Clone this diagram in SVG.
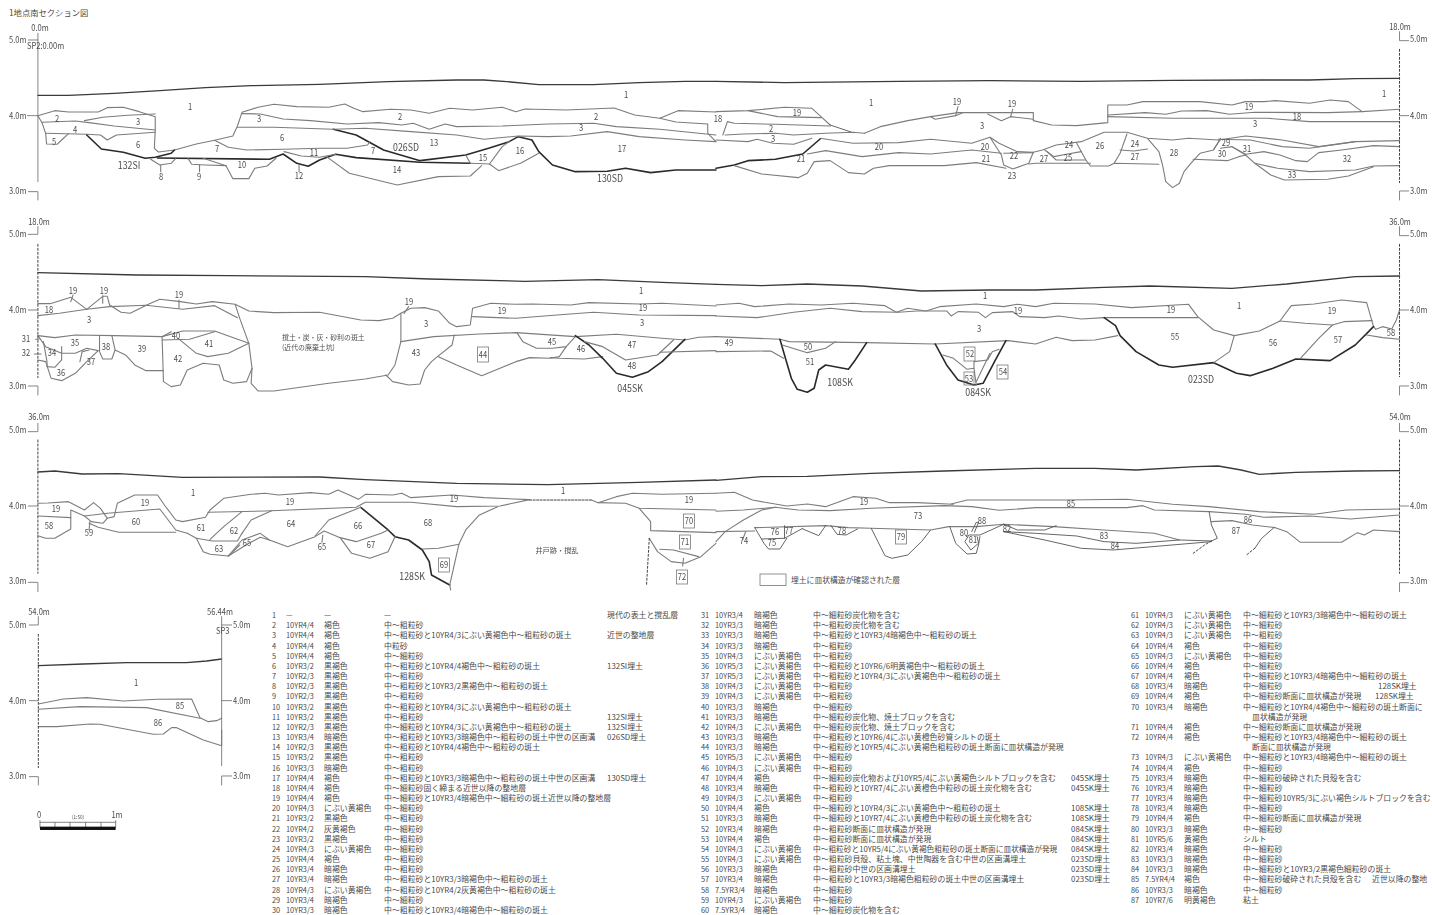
<svg xmlns="http://www.w3.org/2000/svg" width="1432" height="915" viewBox="0 0 1432 915">
<style>
text{font-family:"Noto Sans CJK JP","Noto Sans",sans-serif;fill:#4a4a4a;font-size:9px}
.m{text-anchor:middle}
.b{font-size:10.5px}
.r text{font-size:7.9px}
.r tspan.n{font-size:7.4px}
#layer-labels,#boxed-labels,#axis-labels{opacity:.99}
#layer-labels text:not(.j),#boxed-labels text,#axis-labels text{transform-box:fill-box;transform-origin:center;transform:scaleX(.84)}
#axis-labels text:not(.m){transform-origin:left center}
polyline{fill:none;stroke:#7c7c7c;stroke-width:1.1;stroke-linejoin:round;stroke-linecap:round;vector-effect:non-scaling-stroke}
polyline.h{stroke:#2a2a2a;stroke-width:1.6}
polyline.k{stroke:#3a3a3a;stroke-width:1.3}
polyline.d{stroke:#555;stroke-width:.9}
polyline.a{stroke:#777;stroke-width:.9}
polyline.s{stroke:#444;stroke-width:1;stroke-dasharray:2 2}
polyline.u{stroke:#444;stroke-width:1.2;stroke-dasharray:2 1.5}
rect.x{fill:none;stroke:#777;stroke-width:.8}
</style>
<g id="sheet-title"><text x="9" y="16" font-size="8.3" style="font-size:8.3px">1地点南セクション図</text></g>

<g id="section-a-left" transform="matrix(.4566 0 0 .3333 0 0)">
<polyline class="a" points="83,100 83,545"/><polyline class="a" points="62,120 83,120"/><polyline class="a" points="60,347 83,347"/><polyline class="a" points="62,575 83,575 83,600"/>
<polyline class="k" points="83,286 150,286 250,280 350,272 450,263 550,257 700,253 850,245 1000,240 1060,240 1110,245 1180,254 1300,254 1400,248 1500,244 1568,244"/>
<polyline points="83,347 120,332 150,336 215,336 235,323 270,322 305,335 340,350 340,390 338,445 347,456 382,450 430,432 470,421 510,408 520,378 530,337 565,322 600,313 650,320 720,322 755,312 775,325 795,335 855,328 900,330 940,340 985,325 1035,330 1100,322 1130,335 1150,327 1240,330 1345,324 1390,345 1445,355 1485,332 1568,336"/>
<polyline points="83,347 92,368 100,400 102,432 125,433 135,420 150,401"/>
<polyline points="92,367 165,363 195,368 250,378 340,390"/>
<polyline points="185,362 225,352 280,346 340,342"/>
<polyline points="100,400 190,403 220,405 235,420 255,405 340,397"/>
<polyline class="h" points="190,405 222,447 270,457 318,475 340,472 375,460 382,450"/>
<polyline class="h" points="345,474 590,478 620,462 650,490 675,499 700,480 735,463 780,473 920,487 1030,490"/>
<polyline class="h" points="730,388 780,405 840,450 920,482 1020,465 1070,445 1115,425 1135,410"/>
<polyline class="h" points="1135,410 1165,420 1180,455 1210,495 1260,515 1330,514 1370,505 1425,518 1480,510 1568,510"/>
<polyline points="330,478 350,495 375,490 385,475"/><polyline points="352,495 352,515"/>
<polyline points="412,476 420,493 450,495 495,497"/><polyline points="445,475 495,497"/><polyline points="437,495 437,515"/>
<polyline points="495,497 510,536 545,536 558,505 585,498 605,474"/>
<polyline points="655,495 655,515"/>
<polyline points="622,455 660,468 700,472 735,463"/>
<polyline points="470,421 500,442 540,450 620,448 700,445 760,445 805,435 810,425"/>
<polyline points="715,470 765,520 870,555 960,530 1030,528 1055,497"/>
<polyline points="1020,465 1030,490"/><polyline points="1030,490 1072,492 1100,440 1115,425"/>
<polyline points="1072,492 1092,512 1140,490 1180,460"/>
<polyline points="530,341 570,342 620,357 680,362 760,372 830,368 880,375 905,370 940,388 975,372 1000,380 1100,378 1200,372 1300,370 1350,380 1445,388 1568,405"/>
<polyline points="520,382 600,382 730,388 800,385 900,395 1000,405 1060,418 1135,408 1200,410 1250,408 1330,395 1400,410 1500,420 1568,425"/>
<polyline points="1445,355 1480,366 1550,372 1550,400 1568,425"/>
</g>

<g id="section-a-right" transform="matrix(.4566 0 0 .3333 716 0)">
<polyline class="k" points="0,244 150,248 400,244 600,242 800,244 1000,241 1200,240 1300,240 1400,236 1497,235"/>
<polyline points="0,335 70,332 150,322 210,325 230,350 250,375"/><polyline class="d" points="250,375 300,398"/>
<polyline points="70,332 135,350 230,353"/>
<polyline points="15,405 25,365 40,370 130,373 250,378"/>
<polyline points="20,405 60,402 130,400 170,405 240,400 300,397 325,400"/>
<polyline points="325,400 360,380 420,362 470,350 530,338 695,338 695,362 735,375 790,377 858,368 858,315 900,315 935,305 1060,305 1130,315 1160,305 1200,305 1225,302 1300,310 1345,300 1385,305 1415,335 1497,328"/>
<polyline points="470,350 480,358 525,347 540,338"/><polyline points="525,347 530,320"/>
<polyline points="595,342 625,362 645,350 695,358"/><polyline points="645,350 650,328"/>
<polyline points="858,345 940,338 985,343 1020,333 1075,332 1125,343 1180,337 1340,338 1415,335"/>
<polyline points="858,350 1000,355 1210,355 1300,365 1497,365"/>
<polyline points="0,420 70,425 90,418 125,430 170,433 210,415"/>
<polyline points="228,415 300,430 400,428 470,418 560,430 600,412 620,430 660,455 695,457 715,450 745,435 800,425 850,397 900,397 945,415 1000,420 1035,415 1100,420 1160,408 1240,420 1320,440 1400,425 1497,422"/>
<polyline points="600,412 625,465 630,495 650,507 685,490 695,457"/>
<polyline points="630,460 695,458"/>
<polyline points="200,462 240,452 320,470 400,458 470,462 560,450 625,460"/>
<polyline class="h" points="0,505 40,495 70,482 130,478 190,462 228,417"/>
<polyline points="40,497 100,522 180,533 200,520 215,485 250,482 290,518 325,522 345,505 380,497 500,497 570,488 635,505"/>
<polyline points="685,492 700,490 820,490"/>
<polyline points="720,450 740,470 770,462 800,455"/><polyline points="725,455 745,480 810,480"/>
<polyline points="790,430 810,480 820,498 860,498 872,490 970,493"/>
<polyline points="900,402 885,460 872,490"/><polyline points="885,450 915,453 945,447"/>
<polyline points="945,415 970,455 978,495 985,545 1000,563 1015,550 1025,515 1040,490 1060,460 1090,450 1105,415"/>
<polyline points="1090,447 1105,418"/><polyline points="1105,445 1130,440 1160,465"/>
<polyline points="1045,478 1120,482 1145,470 1160,465"/>
<polyline points="1130,440 1160,463 1200,455 1235,465 1270,482 1295,485 1320,458 1370,450 1440,437 1497,440"/>
<polyline points="1100,418 1170,420 1240,440 1300,445 1400,425"/>
<polyline points="1160,465 1180,490 1230,505 1300,515 1400,510 1440,498 1497,497"/>
<polyline points="1180,490 1215,525 1245,540 1340,538 1385,528 1440,500"/>
<polyline class="s" points="1497,148 1497,548"/>
<polyline class="a" points="1497,95 1497,122 1517,122"/><polyline class="a" points="1497,347 1517,347"/><polyline class="a" points="1497,600 1497,573 1517,573"/>
</g>

<g id="section-b-left" transform="matrix(.4566 0 0 .3333 0 205)">
<polyline class="k" points="83,203 300,210 500,212 800,215 940,222 1150,229 1310,224 1450,232 1568,238"/>
<polyline points="83,296 110,296 155,277 190,313 225,274 235,274 240,300 265,322 285,325 325,298 350,283 395,290 430,297 465,290 515,298 545,318 600,323 700,322 790,345 830,347 860,340 878,325 900,310 930,308 960,318 985,355 1000,365 1030,360 1035,310 1075,295 1130,298 1165,297 1250,300 1290,293 1400,297 1450,295 1568,303"/>
<polyline points="83,332 130,325 190,313 240,305 320,301 400,313 470,302 520,338"/>
<polyline points="515,298 525,340 545,415 552,490 550,535 565,558 600,558 720,535 800,522 850,510 865,480 878,410 878,325"/>
<polyline points="845,510 860,530 895,540 920,537 930,495 945,470 958,455 990,420 995,390"/>
<polyline points="83,392 120,398 165,390 250,392 355,395 400,378 470,378 545,415"/>
<polyline points="83,392 100,425 135,445 165,445 190,430 215,437"/>
<polyline points="95,410 103,470 103,485 120,487 135,465 135,425"/>
<polyline points="83,465 100,470 112,520 135,527 165,505 190,470 215,437"/>
<polyline points="175,470 180,440 195,435"/>
<polyline points="218,392 218,440 225,462 245,462 252,435 245,392"/>
<polyline points="252,435 275,450 295,480 320,497 358,497"/>
<polyline points="355,395 358,530 375,545 395,540 410,495 445,475 480,480 490,525 510,535 540,530 552,490"/>
<polyline points="355,405 415,403 470,380"/><polyline points="390,400 430,445 455,455 500,445 545,415"/><polyline points="355,395 375,380"/>
<polyline points="878,410 950,395 1050,387 1130,383 1260,395 1350,388 1450,400 1500,405 1530,397 1568,395"/>
<polyline points="1132,383 1145,410 1175,430 1210,430 1240,425 1260,395"/>
<polyline points="1240,425 1225,455 1205,460 1160,458 1130,470 1095,490 1055,512 1000,480 960,455"/>
<polyline points="1205,458 1225,460 1280,462 1320,455"/>
<polyline class="h" points="1260,392 1290,420 1320,460 1350,505 1385,517 1420,500 1450,470 1500,403"/>
<polyline points="1280,410 1320,425 1370,465 1440,450 1475,405"/>
<polyline points="1445,442 1568,437"/>
<polyline points="1035,335 1130,340 1220,330 1300,322 1400,330 1568,332"/>
<polyline points="160,270 155,290"/><polyline points="225,272 225,295"/><polyline points="392,285 392,310"/><polyline points="895,305 885,325"/>
<polyline points="78,403 85,403"/><polyline points="75,447 90,447"/>
<polyline class="a" points="83,65 83,88 62,88"/><polyline class="s" points="83,118 83,518"/><polyline class="a" points="62,315 83,315"/><polyline class="a" points="62,543 83,543 83,570"/>
</g>

<g id="section-b-right" transform="matrix(.4566 0 0 .3333 716 205)">
<polyline class="k" points="0,238 100,242 200,237 320,243 450,258 600,255 700,255 850,247 950,243 1130,250 1250,237 1400,215 1497,213"/>
<polyline points="0,300 50,295 85,305 160,297 230,300 300,295 370,302 395,322 420,310 460,318 490,305 570,297 630,305 660,298 700,305 740,295 830,297 910,308 1035,298 1055,335 1090,375 1135,392 1190,378 1235,348 1260,302 1310,297 1370,285 1425,293 1440,365 1445,373 1460,365 1480,372 1490,345 1497,315"/>
<polyline points="0,333 90,338 170,322 250,310 320,320 400,322 440,318 505,318 515,333 530,320 575,322 590,338 605,323 650,320 665,335 720,338 750,333 800,342 850,338 1055,338"/>
<polyline points="0,395 140,403 160,410 330,413 480,417 640,407 700,417 745,397 780,407 830,405 880,392"/>
<polyline class="h" points="140,403 150,450 165,520 178,553 200,562 215,550 225,495 240,480 290,493 305,465 330,413"/>
<polyline points="145,420 200,443 240,430 262,410"/><polyline points="0,440 120,438 148,460"/>
<polyline class="h" points="480,417 505,480 530,525 565,540 585,535 610,470 635,407"/>
<polyline points="497,450 520,460 550,493 565,490 565,470 595,465 605,440 620,433"/>
<polyline points="570,530 600,445"/><polyline points="565,490 570,540"/>
<polyline class="h" points="850,338 875,362 885,392 920,440 970,480 1000,487 1090,473 1140,505 1170,512 1220,490 1270,462 1345,467 1400,420 1440,365"/>
<polyline points="1135,392 1125,440 1090,473"/>
<polyline points="1235,348 1290,355 1350,360 1375,350 1437,347"/>
<polyline points="1350,360 1320,400 1280,460"/>
<polyline points="1425,390 1460,398 1497,403"/>
<polyline class="s" points="1497,118 1497,515"/>
<polyline class="a" points="1497,65 1497,92 1517,92"/><polyline class="a" points="1497,315 1517,315"/><polyline class="a" points="1497,570 1497,543 1517,543"/>
</g>

<g id="section-c-left" transform="matrix(.4566 0 0 .3333 0 405)">
<polyline class="k" points="83,201 120,198 180,207 260,206 400,217 700,216 800,224 1000,235 1200,239 1400,232 1568,225"/>
<polyline points="83,295 105,294 150,290 185,315 205,293 220,310 235,340 250,335 257,295 295,270 345,270 360,300 385,345 400,350 450,337 460,315 490,280 550,268 580,265 610,270 680,263 720,268 740,255 765,270 785,283 800,268 860,270 880,265 900,278 990,270 1060,278 1160,284"/>
<polyline class="u" points="1160,285 1295,285"/>
<polyline points="1295,285 1310,293 1350,275 1385,265 1450,268 1568,265"/>
<polyline points="83,333 155,338 155,315 185,333 235,325 350,312 385,375 410,385"/>
<polyline points="155,338 155,372 120,400 100,400 83,392"/>
<polyline points="195,355 215,367 260,382 385,382"/>
<polyline points="185,333 200,350 225,355 235,340"/><polyline points="197,350 195,375"/>
<polyline points="455,322 580,318 780,307 800,292 900,292 1000,305 1095,303 1160,284"/>
<polyline class="h" points="790,307 850,375 865,395 895,405 925,435 940,470 945,510 985,540"/>
<polyline points="410,385 430,400 445,440 460,448 500,453 525,420"/>
<polyline points="430,400 465,408 520,408 530,385"/>
<polyline points="460,403 490,365 530,320"/><polyline points="530,385 550,345 595,317"/>
<polyline points="500,453 530,405 570,385 590,405 630,425 690,395 710,378 745,398 780,410 835,385 850,375"/>
<polyline points="500,453 545,415 570,397 590,405"/>
<polyline points="690,393 720,345 790,307"/>
<polyline points="745,398 770,445 810,460 850,440 865,395"/>
<polyline points="707,390 705,412"/>
<polyline points="925,432 960,430 1005,418 1020,375 1050,330 1090,305"/>
<polyline points="1005,418 985,540 987,555"/>
<polyline points="1400,310 1425,350 1425,377 1568,383"/><polyline points="1310,293 1370,295 1400,310 1568,315"/>
<polyline points="1422,400 1440,440 1470,470 1500,475 1535,455 1568,415"/><polyline points="1445,433 1475,435 1530,455"/>
<polyline class="s" points="1422,400 1416,540"/><polyline points="1497,460 1495,483"/>
<polyline class="a" points="83,55 83,80 62,80"/><polyline class="s" points="83,105 83,505"/><polyline class="a" points="62,303 83,303"/><polyline class="a" points="62,532 83,532 83,560"/>
</g>

<g id="section-c-right" transform="matrix(.4566 0 0 .3333 716 405)">
<polyline class="k" points="0,226 100,215 200,214 340,205 500,198 700,190 830,190 920,195 1050,185 1100,183 1150,195 1190,208 1270,202 1400,198 1497,197"/>
<polyline points="0,265 40,262 80,285 120,295 155,303 200,297 240,305 300,275 350,280 380,293 440,293 520,298"/>
<polyline points="0,319 60,315 130,307 180,315 250,317 340,310 500,302 560,305 620,316 700,308 900,308 935,302 960,315 1080,320"/>
<polyline points="515,297 550,285 770,285 900,283 1000,298 1080,305 1190,320 1310,328 1380,315 1497,312"/>
<polyline points="1080,320 1160,328 1200,337 1300,333 1390,342 1497,330"/>
<polyline class="d" points="1080,320 1085,360 1098,400 1085,408"/>
<polyline points="1085,350 1130,347 1175,360 1225,368 1250,380 1280,412 1370,412 1405,383 1420,390 1440,375 1497,380"/>
<polyline class="d" points="1222,368 1195,400 1180,430"/><polyline class="s" points="1180,430 1160,452"/>
<polyline class="s" points="1085,408 1070,420 1045,445"/>
<polyline points="0,380 85,378"/><polyline points="0,410 20,380 60,345 100,315 130,307"/>
<polyline points="85,368 240,362 290,368 340,370 470,375 510,365 570,365 630,358 740,365 850,375 960,385 1015,405"/>
<polyline class="d" points="85,368 105,415 115,432 140,432 155,400"/>
<polyline class="d" points="100,402 150,400 190,370"/><polyline class="d" points="150,362 150,400"/><polyline points="65,380 58,405"/>
<polyline class="d" points="190,372 225,392 240,362"/><polyline class="d" points="252,362 265,388 285,390 310,372"/>
<polyline class="d" points="340,370 370,452 385,460 420,450 450,410 470,375"/>
<polyline class="d" points="512,365 525,415 550,447 570,445 575,420 578,395"/>
<polyline class="d" points="548,395 555,390 578,390 630,358"/>
<polyline class="d" points="630,358 660,375 720,375 745,362"/>
<polyline class="d" points="630,380 700,385 790,393 850,410 920,415 1015,405 1085,408"/>
<polyline class="d" points="630,380 720,405 800,430 870,435 1085,410"/>
<polyline class="d" points="560,380 570,352 575,352 566,382"/>
<polyline class="d" points="552,395 545,410 558,435 575,415 572,395"/>
<polyline class="s" points="1497,105 1497,505"/>
<polyline class="a" points="1497,55 1497,80 1517,80"/><polyline class="a" points="1497,303 1517,303"/><polyline class="a" points="1497,560 1497,533 1517,533"/>
</g>

<g id="section-d" transform="matrix(.3333 0 0 .3333 0 600)">
<polyline class="k" points="115,197 250,192 380,188 560,188 620,183 665,177"/>
<polyline points="115,312 190,297 260,293 370,303 470,298 575,297 600,353 625,365 650,362 665,355"/>
<polyline points="115,328 240,320 440,323 600,355"/>
<polyline points="115,380 170,380 270,372 300,373 460,403 490,402 515,383 530,383 610,420 665,437 665,390"/>
<polyline class="s" points="115,103 115,503"/><polyline class="a" points="88,75 115,75 115,50"/><polyline class="a" points="88,302 115,302"/><polyline class="a" points="88,530 115,530 115,555"/>
<polyline class="a" points="665,50 665,497"/><polyline class="a" points="665,75 695,75"/><polyline class="a" points="665,302 695,302"/><polyline class="a" points="665,555 665,528 695,528"/>
<polyline class="a" points="120,667 347,667"/><polyline class="a" points="120,662 120,682"/><polyline class="a" points="165,667 165,682"/><polyline class="a" points="210,667 210,682"/><polyline class="a" points="257,667 257,682"/><polyline class="a" points="303,667 303,682"/><polyline class="a" points="347,662 347,682"/>
<rect x="120" y="680" width="227" height="10" fill="#111"/>
</g>

<g id="layer-labels">
<text class="m" x="190" y="110">1</text><text class="m" x="57" y="122">2</text><text class="m" x="138" y="125">3</text><text class="m" x="75" y="133">4</text><text class="m" x="54" y="145">5</text><text class="m" x="138" y="148">6</text><text class="m" x="626" y="98">1</text><text class="m" x="400" y="120">2</text><text class="m" x="596" y="120">2</text><text class="m" x="259" y="122">3</text><text class="m" x="581" y="131">3</text><text class="m" x="282" y="141">6</text><text class="m" x="434" y="146">13</text><text class="m" x="217" y="152">7</text><text class="m" x="373" y="154">7</text><text class="m" x="314" y="156">11</text><text class="m" x="520" y="154">16</text><text class="m" x="622" y="152">17</text><text class="m" x="483" y="161">15</text><text class="m" x="242" y="168">10</text><text class="m" x="397" y="173">14</text><text class="m" x="161" y="180">8</text><text class="m" x="199" y="180">9</text><text class="m" x="299" y="179">12</text>
<text class="m b" x="406" y="151">026SD</text><text class="m b" x="129" y="169">132SI</text><text class="m b" x="610" y="182">130SD</text>
<text class="m" x="718" y="122">18</text><text class="m" x="797" y="116">19</text><text class="m" x="871" y="106">1</text><text class="m" x="957" y="105">19</text><text class="m" x="1012" y="107">19</text><text class="m" x="1249" y="110">19</text><text class="m" x="1384" y="97">1</text><text class="m" x="1297" y="120">18</text><text class="m" x="982" y="129">3</text><text class="m" x="1255" y="127">3</text><text class="m" x="771" y="132">2</text><text class="m" x="773" y="142">3</text><text class="m" x="879" y="150">20</text><text class="m" x="985" y="150">20</text><text class="m" x="1069" y="148.5">24</text><text class="m" x="1100" y="149">26</text><text class="m" x="1135" y="147">24</text><text class="m" x="1226" y="146">29</text><text class="m" x="1247" y="152">31</text><text class="m" x="1174" y="156">28</text><text class="m" x="1222" y="157">30</text><text class="m" x="1347" y="162">32</text><text class="m" x="1014" y="159">22</text><text class="m" x="1068" y="161">25</text><text class="m" x="801" y="162">21</text><text class="m" x="986" y="162">21</text><text class="m" x="1044" y="162">27</text><text class="m" x="1135" y="160">27</text><text class="m" x="1292" y="178">33</text><text class="m" x="1012" y="179">23</text>
<text class="m" x="73" y="294">19</text><text class="m" x="104" y="294">19</text><text class="m" x="179" y="298">19</text><text class="m" x="409" y="305">19</text><text class="m" x="49" y="313">18</text><text class="m" x="89" y="323">3</text><text class="m" x="641" y="294">1</text><text class="m" x="502" y="314">19</text><text class="m" x="643" y="311">19</text><text class="m" x="426" y="327">3</text><text class="m" x="642" y="326">3</text><text class="m" x="26" y="342">31</text><text class="m" x="26" y="356">32</text><text class="m" x="75" y="346">35</text><text class="m" x="176" y="339">40</text><text class="m" x="209" y="347">41</text><text class="m" x="106" y="350">38</text><text class="m" x="142" y="352">39</text><text class="m" x="52" y="356">34</text><text class="m" x="178" y="362">42</text><text class="m" x="91" y="365">37</text><text class="m" x="61" y="376">36</text><text class="m" x="416" y="356">43</text><text class="m" x="552" y="345">45</text><text class="m" x="581" y="352">46</text><text class="m" x="632" y="348">47</text><text class="m" x="632" y="369">48</text>
<text class="m b" x="630" y="392">045SK</text>
<text class="j" x="282" y="340" style="font-size:6.9px">撹土・炭・灰・砂利の斑土</text><text class="j" x="282" y="350" style="font-size:6.9px">(近代の廃棄土坑)</text>
<text class="m" x="985" y="299">1</text><text class="m" x="1239" y="309">1</text><text class="m" x="1171" y="313">19</text><text class="m" x="1332" y="314">19</text><text class="m" x="1018" y="314">19</text><text class="m" x="979" y="332">3</text><text class="m" x="729" y="346">49</text><text class="m" x="1175" y="340">55</text><text class="m" x="808" y="350">50</text><text class="m" x="1273" y="346">56</text><text class="m" x="1338" y="343">57</text><text class="m" x="1391" y="336">58</text><text class="m" x="810" y="365">51</text>
<text class="m b" x="840" y="386">108SK</text><text class="m b" x="1201" y="383">023SD</text><text class="m b" x="978" y="396">084SK</text>
<text class="m" x="193" y="496">1</text><text class="m" x="56" y="512">19</text><text class="m" x="145" y="506">19</text><text class="m" x="290" y="505">19</text><text class="m" x="454" y="502">19</text><text class="m" x="563" y="494">1</text><text class="m" x="689" y="503">19</text><text class="m" x="49" y="529">58</text><text class="m" x="136" y="525">60</text><text class="m" x="89" y="536">59</text><text class="m" x="201" y="531">61</text><text class="m" x="234" y="534">62</text><text class="m" x="291" y="527">64</text><text class="m" x="358" y="529">66</text><text class="m" x="428" y="526">68</text><text class="m" x="247" y="546">65</text><text class="m" x="322" y="550">65</text><text class="m" x="371" y="548">67</text><text class="m" x="219" y="552">63</text>
<text class="m j" x="557" y="553" style="font-size:7.2px">井戸跡・撹乱</text>
<text class="m b" x="412" y="580">128SK</text>
<text class="m" x="864" y="505">19</text><text class="m" x="1071" y="507">85</text><text class="m" x="918" y="519">73</text><text class="m" x="982" y="524">88</text><text class="m" x="775" y="535">76</text><text class="m" x="789" y="534">77</text><text class="m" x="842" y="534">78</text><text class="m" x="964" y="536">80</text><text class="m" x="973" y="543">81</text><text class="m" x="1007" y="532">82</text><text class="m" x="1104" y="539">83</text><text class="m" x="1115" y="549">84</text><text class="m" x="744" y="544">74</text><text class="m" x="772" y="546">75</text><text class="m" x="1248" y="523">86</text><text class="m" x="1236" y="534">87</text>
<text class="m" x="136" y="686">1</text><text class="m" x="180" y="709">85</text><text class="m" x="158" y="726">86</text>
</g>

<g id="boxed-labels">
<rect class="x" x="477.5" y="347" width="11" height="15"/><text class="m" x="483" y="358">44</text>
<rect class="x" x="964" y="347" width="11" height="14"/><text class="m" x="970" y="357">52</text>
<rect class="x" x="997" y="365" width="11" height="14"/><text class="m" x="1003" y="375">54</text>
<rect class="x" x="964" y="372" width="10" height="13"/><text class="m" x="969" y="382">53</text>
<rect class="x" x="438.5" y="558" width="11" height="14"/><text class="m" x="444" y="568">69</text>
<rect class="x" x="683.5" y="514" width="11" height="14"/><text class="m" x="689" y="524">70</text>
<rect class="x" x="679.5" y="535" width="11" height="14"/><text class="m" x="685" y="545">71</text>
<rect class="x" x="676.5" y="570" width="11" height="14"/><text class="m" x="682" y="580">72</text>
<rect class="x" x="895.5" y="530" width="11" height="14"/><text class="m" x="901" y="540">79</text>
</g>

<g id="legend"><rect class="x" x="760" y="574" width="26" height="11.5"/><text x="791" y="583" style="font-size:7.8px">埋土に皿状構造が確認された層</text></g>

<g id="axis-labels">
<text class="m" x="40" y="31">0.0m</text><text x="9" y="43">5.0m</text><text x="27" y="49">SP2:0.00m</text><text x="9" y="119">4.0m</text><text x="9" y="194">3.0m</text>
<text class="m" x="1400" y="30">18.0m</text><text x="1410" y="42">5.0m</text><text x="1410" y="119">4.0m</text><text x="1410" y="194">3.0m</text>
<text class="m" x="39" y="225">18.0m</text><text x="9" y="237">5.0m</text><text x="9" y="313">4.0m</text><text x="9" y="389">3.0m</text>
<text class="m" x="1400" y="225">36.0m</text><text x="1410" y="237">5.0m</text><text x="1410" y="313">4.0m</text><text x="1410" y="389">3.0m</text>
<text class="m" x="39" y="420">36.0m</text><text x="9" y="433">5.0m</text><text x="9" y="509">4.0m</text><text x="9" y="584">3.0m</text>
<text class="m" x="1400" y="420">54.0m</text><text x="1410" y="433">5.0m</text><text x="1410" y="509">4.0m</text><text x="1410" y="584">3.0m</text>
<text class="m" x="39" y="615">54.0m</text><text x="9" y="628">5.0m</text><text x="9" y="704">4.0m</text><text x="9" y="779">3.0m</text>
<text class="m" x="220" y="615">56.44m</text><text x="233" y="628">5.0m</text><text x="216" y="634">SP3</text><text x="233" y="704">4.0m</text><text x="233" y="779">3.0m</text>
<text class="m" x="39" y="818">0</text><text class="m" x="78" y="819" style="font-size:5.5px">(1:50)</text><text class="m" x="117" y="818">1m</text>
</g>

<g id="table-1" class="r">
<text y="618"><tspan class="n" x="272">1</tspan><tspan class="n" x="286">—</tspan><tspan x="324">—</tspan><tspan x="384">—</tspan><tspan x="607">現代の表土と撹乱層</tspan></text>
<text y="628.2"><tspan class="n" x="272">2</tspan><tspan class="n" x="286">10YR4/4</tspan><tspan x="324">褐色</tspan><tspan x="384">中～粗粒砂</tspan></text>
<text y="638.3"><tspan class="n" x="272">3</tspan><tspan class="n" x="286">10YR4/4</tspan><tspan x="324">褐色</tspan><tspan x="384">中～粗粒砂と10YR4/3にぶい黄褐色中～粗粒砂の斑土</tspan><tspan x="607">近世の整地層</tspan></text>
<text y="648.5"><tspan class="n" x="272">4</tspan><tspan class="n" x="286">10YR4/4</tspan><tspan x="324">褐色</tspan><tspan x="384">中粒砂</tspan></text>
<text y="658.7"><tspan class="n" x="272">5</tspan><tspan class="n" x="286">10YR4/4</tspan><tspan x="324">褐色</tspan><tspan x="384">中～細粒砂</tspan></text>
<text y="668.9"><tspan class="n" x="272">6</tspan><tspan class="n" x="286">10YR3/2</tspan><tspan x="324">黒褐色</tspan><tspan x="384">中～粗粒砂と10YR4/4褐色中～粗粒砂の斑土</tspan><tspan x="607">132SI埋土</tspan></text>
<text y="679"><tspan class="n" x="272">7</tspan><tspan class="n" x="286">10YR2/3</tspan><tspan x="324">黒褐色</tspan><tspan x="384">中～粗粒砂</tspan></text>
<text y="689.2"><tspan class="n" x="272">8</tspan><tspan class="n" x="286">10YR2/3</tspan><tspan x="324">黒褐色</tspan><tspan x="384">中～粗粒砂と10YR3/2黒褐色中～粗粒砂の斑土</tspan></text>
<text y="699.4"><tspan class="n" x="272">9</tspan><tspan class="n" x="286">10YR2/3</tspan><tspan x="324">黒褐色</tspan><tspan x="384">中～粗粒砂</tspan></text>
<text y="709.5"><tspan class="n" x="272">10</tspan><tspan class="n" x="286">10YR3/2</tspan><tspan x="324">黒褐色</tspan><tspan x="384">中～粗粒砂と10YR4/3にぶい黄褐色中～粗粒砂の斑土</tspan></text>
<text y="719.7"><tspan class="n" x="272">11</tspan><tspan class="n" x="286">10YR3/2</tspan><tspan x="324">黒褐色</tspan><tspan x="384">中～粗粒砂</tspan><tspan x="607">132SI埋土</tspan></text>
<text y="729.9"><tspan class="n" x="272">12</tspan><tspan class="n" x="286">10YR2/3</tspan><tspan x="324">黒褐色</tspan><tspan x="384">中～細粒砂と10YR4/3にぶい黄褐色中～粗粒砂の斑土</tspan><tspan x="607">132SI埋土</tspan></text>
<text y="740"><tspan class="n" x="272">13</tspan><tspan class="n" x="286">10YR3/4</tspan><tspan x="324">暗褐色</tspan><tspan x="384">中～粗粒砂と10YR3/3暗褐色中～粗粒砂の斑土中世の区画溝</tspan><tspan x="607">026SD埋土</tspan></text>
<text y="750.2"><tspan class="n" x="272">14</tspan><tspan class="n" x="286">10YR2/3</tspan><tspan x="324">黒褐色</tspan><tspan x="384">中～粗粒砂と10YR4/4褐色中～粗粒砂の斑土</tspan></text>
<text y="760.4"><tspan class="n" x="272">15</tspan><tspan class="n" x="286">10YR3/2</tspan><tspan x="324">黒褐色</tspan><tspan x="384">中～粗粒砂</tspan></text>
<text y="770.6"><tspan class="n" x="272">16</tspan><tspan class="n" x="286">10YR3/3</tspan><tspan x="324">暗褐色</tspan><tspan x="384">中～粗粒砂</tspan></text>
<text y="780.7"><tspan class="n" x="272">17</tspan><tspan class="n" x="286">10YR4/4</tspan><tspan x="324">褐色</tspan><tspan x="384">中～粗粒砂と10YR3/3暗褐色中～粗粒砂の斑土中世の区画溝</tspan><tspan x="607">130SD埋土</tspan></text>
<text y="790.9"><tspan class="n" x="272">18</tspan><tspan class="n" x="286">10YR4/4</tspan><tspan x="324">褐色</tspan><tspan x="384">中～細粒砂固く締まる近世以降の整地層</tspan></text>
<text y="801.1"><tspan class="n" x="272">19</tspan><tspan class="n" x="286">10YR4/4</tspan><tspan x="324">褐色</tspan><tspan x="384">中～細粒砂と10YR3/4暗褐色中～細粒砂の斑土近世以降の整地層</tspan></text>
<text y="811.2"><tspan class="n" x="272">20</tspan><tspan class="n" x="286">10YR4/3</tspan><tspan x="324">にぶい黄褐色</tspan><tspan x="384">中～細粒砂</tspan></text>
<text y="821.4"><tspan class="n" x="272">21</tspan><tspan class="n" x="286">10YR3/2</tspan><tspan x="324">黒褐色</tspan><tspan x="384">中～粗粒砂</tspan></text>
<text y="831.6"><tspan class="n" x="272">22</tspan><tspan class="n" x="286">10YR4/2</tspan><tspan x="324">灰黄褐色</tspan><tspan x="384">中～細粒砂</tspan></text>
<text y="841.7"><tspan class="n" x="272">23</tspan><tspan class="n" x="286">10YR3/2</tspan><tspan x="324">黒褐色</tspan><tspan x="384">中～粗粒砂</tspan></text>
<text y="851.9"><tspan class="n" x="272">24</tspan><tspan class="n" x="286">10YR4/3</tspan><tspan x="324">にぶい黄褐色</tspan><tspan x="384">中～細粒砂</tspan></text>
<text y="862.1"><tspan class="n" x="272">25</tspan><tspan class="n" x="286">10YR4/4</tspan><tspan x="324">褐色</tspan><tspan x="384">中～粗粒砂</tspan></text>
<text y="872.3"><tspan class="n" x="272">26</tspan><tspan class="n" x="286">10YR3/4</tspan><tspan x="324">暗褐色</tspan><tspan x="384">中～粗粒砂</tspan></text>
<text y="882.4"><tspan class="n" x="272">27</tspan><tspan class="n" x="286">10YR3/4</tspan><tspan x="324">暗褐色</tspan><tspan x="384">中～粗粒砂と10YR3/3暗褐色中～粗粒砂の斑土</tspan></text>
<text y="892.6"><tspan class="n" x="272">28</tspan><tspan class="n" x="286">10YR4/3</tspan><tspan x="324">にぶい黄褐色</tspan><tspan x="384">中～粗粒砂と10YR4/2灰黄褐色中～粗粒砂の斑土</tspan></text>
<text y="902.8"><tspan class="n" x="272">29</tspan><tspan class="n" x="286">10YR3/4</tspan><tspan x="324">暗褐色</tspan><tspan x="384">中～細粒砂</tspan></text>
<text y="912.9"><tspan class="n" x="272">30</tspan><tspan class="n" x="286">10YR3/3</tspan><tspan x="324">暗褐色</tspan><tspan x="384">中～粗粒砂と10YR3/4暗褐色中～細粒砂の斑土</tspan></text>
</g>

<g id="table-2" class="r">
<text y="618"><tspan class="n" x="701">31</tspan><tspan class="n" x="715">10YR3/4</tspan><tspan x="754">暗褐色</tspan><tspan x="813">中～細粒砂炭化物を含む</tspan></text>
<text y="628.2"><tspan class="n" x="701">32</tspan><tspan class="n" x="715">10YR3/3</tspan><tspan x="754">暗褐色</tspan><tspan x="813">中～粗粒砂炭化物を含む</tspan></text>
<text y="638.3"><tspan class="n" x="701">33</tspan><tspan class="n" x="715">10YR3/3</tspan><tspan x="754">暗褐色</tspan><tspan x="813">中～粗粒砂と10YR3/4暗褐色中～粗粒砂の斑土</tspan></text>
<text y="648.5"><tspan class="n" x="701">34</tspan><tspan class="n" x="715">10YR3/3</tspan><tspan x="754">暗褐色</tspan><tspan x="813">中～粗粒砂</tspan></text>
<text y="658.7"><tspan class="n" x="701">35</tspan><tspan class="n" x="715">10YR4/3</tspan><tspan x="754">にぶい黄褐色</tspan><tspan x="813">中～粗粒砂</tspan></text>
<text y="668.9"><tspan class="n" x="701">36</tspan><tspan class="n" x="715">10YR5/3</tspan><tspan x="754">にぶい黄褐色</tspan><tspan x="813">中～粗粒砂と10YR6/6明黄褐色中～粗粒砂の斑土</tspan></text>
<text y="679"><tspan class="n" x="701">37</tspan><tspan class="n" x="715">10YR5/3</tspan><tspan x="754">にぶい黄褐色</tspan><tspan x="813">中～粗粒砂と10YR4/3にぶい黄褐色中～粗粒砂の斑土</tspan></text>
<text y="689.2"><tspan class="n" x="701">38</tspan><tspan class="n" x="715">10YR4/3</tspan><tspan x="754">にぶい黄褐色</tspan><tspan x="813">中～粗粒砂</tspan></text>
<text y="699.4"><tspan class="n" x="701">39</tspan><tspan class="n" x="715">10YR4/3</tspan><tspan x="754">にぶい黄褐色</tspan><tspan x="813">中～粗粒砂</tspan></text>
<text y="709.5"><tspan class="n" x="701">40</tspan><tspan class="n" x="715">10YR3/3</tspan><tspan x="754">暗褐色</tspan><tspan x="813">中～細粒砂</tspan></text>
<text y="719.7"><tspan class="n" x="701">41</tspan><tspan class="n" x="715">10YR3/3</tspan><tspan x="754">暗褐色</tspan><tspan x="813">中～細粒砂炭化物、焼土ブロックを含む</tspan></text>
<text y="729.9"><tspan class="n" x="701">42</tspan><tspan class="n" x="715">10YR4/3</tspan><tspan x="754">にぶい黄褐色</tspan><tspan x="813">中～細粒砂炭化物、焼土ブロックを含む</tspan></text>
<text y="740"><tspan class="n" x="701">43</tspan><tspan class="n" x="715">10YR3/3</tspan><tspan x="754">暗褐色</tspan><tspan x="813">中～粗粒砂と10YR6/4にぶい黄橙色砂質シルトの斑土</tspan></text>
<text y="750.2"><tspan class="n" x="701">44</tspan><tspan class="n" x="715">10YR3/3</tspan><tspan x="754">暗褐色</tspan><tspan x="813">中～粗粒砂と10YR5/4にぶい黄褐色粗粒砂の斑土断面に皿状構造が発現</tspan></text>
<text y="760.4"><tspan class="n" x="701">45</tspan><tspan class="n" x="715">10YR5/3</tspan><tspan x="754">にぶい黄褐色</tspan><tspan x="813">中～細粒砂</tspan></text>
<text y="770.6"><tspan class="n" x="701">46</tspan><tspan class="n" x="715">10YR4/3</tspan><tspan x="754">にぶい黄褐色</tspan><tspan x="813">中～粗粒砂</tspan></text>
<text y="780.7"><tspan class="n" x="701">47</tspan><tspan class="n" x="715">10YR4/4</tspan><tspan x="754">褐色</tspan><tspan x="813">中～細粒砂炭化物および10YR5/4にぶい黄褐色シルトブロックを含む</tspan><tspan x="1071">045SK埋土</tspan></text>
<text y="790.9"><tspan class="n" x="701">48</tspan><tspan class="n" x="715">10YR3/4</tspan><tspan x="754">暗褐色</tspan><tspan x="813">中～粗粒砂と10YR7/4にぶい黄橙色中粒砂の斑土炭化物を含む</tspan><tspan x="1071">045SK埋土</tspan></text>
<text y="801.1"><tspan class="n" x="701">49</tspan><tspan class="n" x="715">10YR4/3</tspan><tspan x="754">にぶい黄褐色</tspan><tspan x="813">中～粗粒砂</tspan></text>
<text y="811.2"><tspan class="n" x="701">50</tspan><tspan class="n" x="715">10YR4/4</tspan><tspan x="754">褐色</tspan><tspan x="813">中～細粒砂と10YR4/3にぶい黄褐色中～粗粒砂の斑土</tspan><tspan x="1071">108SK埋土</tspan></text>
<text y="821.4"><tspan class="n" x="701">51</tspan><tspan class="n" x="715">10YR3/3</tspan><tspan x="754">暗褐色</tspan><tspan x="813">中～細粒砂と10YR7/4にぶい黄橙色中粒砂の斑土炭化物を含む</tspan><tspan x="1071">108SK埋土</tspan></text>
<text y="831.6"><tspan class="n" x="701">52</tspan><tspan class="n" x="715">10YR3/4</tspan><tspan x="754">暗褐色</tspan><tspan x="813">中～粗粒砂断面に皿状構造が発現</tspan><tspan x="1071">084SK埋土</tspan></text>
<text y="841.7"><tspan class="n" x="701">53</tspan><tspan class="n" x="715">10YR4/4</tspan><tspan x="754">褐色</tspan><tspan x="813">中～粗粒砂断面に皿状構造が発現</tspan><tspan x="1071">084SK埋土</tspan></text>
<text y="851.9"><tspan class="n" x="701">54</tspan><tspan class="n" x="715">10YR4/3</tspan><tspan x="754">にぶい黄褐色</tspan><tspan x="813" style="font-size:7.7px">中～粗粒砂と10YR5/4にぶい黄褐色粗粒砂の斑土断面に皿状構造が発現</tspan><tspan x="1071">084SK埋土</tspan></text>
<text y="862.1"><tspan class="n" x="701">55</tspan><tspan class="n" x="715">10YR4/3</tspan><tspan x="754">にぶい黄褐色</tspan><tspan x="813">中～粗粒砂貝殻、粘土塊、中世陶器を含む中世の区画溝埋土</tspan><tspan x="1071">023SD埋土</tspan></text>
<text y="872.3"><tspan class="n" x="701">56</tspan><tspan class="n" x="715">10YR3/3</tspan><tspan x="754">暗褐色</tspan><tspan x="813">中～粗粒砂中世の区画溝埋土</tspan><tspan x="1071">023SD埋土</tspan></text>
<text y="882.4"><tspan class="n" x="701">57</tspan><tspan class="n" x="715">10YR3/4</tspan><tspan x="754">暗褐色</tspan><tspan x="813">中～粗粒砂と10YR3/3暗褐色粗粒砂の斑土中世の区画溝埋土</tspan><tspan x="1071">023SD埋土</tspan></text>
<text y="892.6"><tspan class="n" x="701">58</tspan><tspan class="n" x="715">7.5YR3/4</tspan><tspan x="754">暗褐色</tspan><tspan x="813">中～細粒砂</tspan></text>
<text y="902.8"><tspan class="n" x="701">59</tspan><tspan class="n" x="715">10YR4/3</tspan><tspan x="754">にぶい黄褐色</tspan><tspan x="813">中～細粒砂</tspan></text>
<text y="912.9"><tspan class="n" x="701">60</tspan><tspan class="n" x="715">7.5YR3/4</tspan><tspan x="754">暗褐色</tspan><tspan x="813">中～細粒砂炭化物を含む</tspan></text>
</g>

<g id="table-3" class="r">
<text y="618"><tspan class="n" x="1131">61</tspan><tspan class="n" x="1145">10YR4/3</tspan><tspan x="1184">にぶい黄褐色</tspan><tspan x="1243">中～細粒砂と10YR3/3暗褐色中～細粒砂の斑土</tspan></text>
<text y="628.2"><tspan class="n" x="1131">62</tspan><tspan class="n" x="1145">10YR4/3</tspan><tspan x="1184">にぶい黄褐色</tspan><tspan x="1243">中～細粒砂</tspan></text>
<text y="638.3"><tspan class="n" x="1131">63</tspan><tspan class="n" x="1145">10YR4/3</tspan><tspan x="1184">にぶい黄褐色</tspan><tspan x="1243">中～粗粒砂</tspan></text>
<text y="648.5"><tspan class="n" x="1131">64</tspan><tspan class="n" x="1145">10YR4/4</tspan><tspan x="1184">褐色</tspan><tspan x="1243">中～細粒砂</tspan></text>
<text y="658.7"><tspan class="n" x="1131">65</tspan><tspan class="n" x="1145">10YR4/3</tspan><tspan x="1184">にぶい黄褐色</tspan><tspan x="1243">中～細粒砂</tspan></text>
<text y="668.9"><tspan class="n" x="1131">66</tspan><tspan class="n" x="1145">10YR4/4</tspan><tspan x="1184">褐色</tspan><tspan x="1243">中～細粒砂</tspan></text>
<text y="679"><tspan class="n" x="1131">67</tspan><tspan class="n" x="1145">10YR4/4</tspan><tspan x="1184">褐色</tspan><tspan x="1243">中～細粒砂と10YR3/4暗褐色中～細粒砂の斑土</tspan></text>
<text y="689.2"><tspan class="n" x="1131">68</tspan><tspan class="n" x="1145">10YR3/4</tspan><tspan x="1184">暗褐色</tspan><tspan x="1243">中～細粒砂</tspan><tspan x="1378">128SK埋土</tspan></text>
<text y="699.4"><tspan class="n" x="1131">69</tspan><tspan class="n" x="1145">10YR4/4</tspan><tspan x="1184">褐色</tspan><tspan x="1243">中～細粒砂断面に皿状構造が発現</tspan><tspan x="1375">128SK埋土</tspan></text>
<text y="709.5"><tspan class="n" x="1131">70</tspan><tspan class="n" x="1145">10YR3/4</tspan><tspan x="1184">暗褐色</tspan><tspan x="1243">中～細粒砂と10YR4/4褐色中～細粒砂の斑土断面に</tspan></text>
<text y="719.7"><tspan x="1252">皿状構造が発現</tspan></text>
<text y="729.9"><tspan class="n" x="1131">71</tspan><tspan class="n" x="1145">10YR4/4</tspan><tspan x="1184">褐色</tspan><tspan x="1243">中～細粒砂断面に皿状構造が発現</tspan></text>
<text y="740"><tspan class="n" x="1131">72</tspan><tspan class="n" x="1145">10YR4/4</tspan><tspan x="1184">褐色</tspan><tspan x="1243">中～細粒砂と10YR3/4暗褐色中～細粒砂の斑土</tspan></text>
<text y="750.2"><tspan x="1252">断面に皿状構造が発現</tspan></text>
<text y="760.4"><tspan class="n" x="1131">73</tspan><tspan class="n" x="1145">10YR4/3</tspan><tspan x="1184">にぶい黄褐色</tspan><tspan x="1243">中～細粒砂と10YR3/4暗褐色中～細粒砂の斑土</tspan></text>
<text y="770.6"><tspan class="n" x="1131">74</tspan><tspan class="n" x="1145">10YR4/4</tspan><tspan x="1184">褐色</tspan><tspan x="1243">中～細粒砂</tspan></text>
<text y="780.7"><tspan class="n" x="1131">75</tspan><tspan class="n" x="1145">10YR3/4</tspan><tspan x="1184">暗褐色</tspan><tspan x="1243">中～細粒砂破砕された貝殻を含む</tspan></text>
<text y="790.9"><tspan class="n" x="1131">76</tspan><tspan class="n" x="1145">10YR3/4</tspan><tspan x="1184">暗褐色</tspan><tspan x="1243">中～細粒砂</tspan></text>
<text y="801.1"><tspan class="n" x="1131">77</tspan><tspan class="n" x="1145">10YR3/4</tspan><tspan x="1184">暗褐色</tspan><tspan x="1243">中～細粒砂10YR5/3にぶい褐色シルトブロックを含む</tspan></text>
<text y="811.2"><tspan class="n" x="1131">78</tspan><tspan class="n" x="1145">10YR3/4</tspan><tspan x="1184">暗褐色</tspan><tspan x="1243">中～細粒砂</tspan></text>
<text y="821.4"><tspan class="n" x="1131">79</tspan><tspan class="n" x="1145">10YR4/4</tspan><tspan x="1184">褐色</tspan><tspan x="1243">中～細粒砂断面に皿状構造が発現</tspan></text>
<text y="831.6"><tspan class="n" x="1131">80</tspan><tspan class="n" x="1145">10YR3/3</tspan><tspan x="1184">暗褐色</tspan><tspan x="1243">中～細粒砂</tspan></text>
<text y="841.7"><tspan class="n" x="1131">81</tspan><tspan class="n" x="1145">10YR5/6</tspan><tspan x="1184">黄褐色</tspan><tspan x="1243">シルト</tspan></text>
<text y="851.9"><tspan class="n" x="1131">82</tspan><tspan class="n" x="1145">10YR3/4</tspan><tspan x="1184">暗褐色</tspan><tspan x="1243">中～細粒砂</tspan></text>
<text y="862.1"><tspan class="n" x="1131">83</tspan><tspan class="n" x="1145">10YR3/3</tspan><tspan x="1184">暗褐色</tspan><tspan x="1243">中～細粒砂</tspan></text>
<text y="872.3"><tspan class="n" x="1131">84</tspan><tspan class="n" x="1145">10YR3/3</tspan><tspan x="1184">暗褐色</tspan><tspan x="1243">中～細粒砂と10YR3/2黒褐色細粒砂の斑土</tspan></text>
<text y="882.4"><tspan class="n" x="1131">85</tspan><tspan class="n" x="1145">7.5YR4/4</tspan><tspan x="1184">褐色</tspan><tspan x="1243">中～細粒砂破砕された貝殻を含む</tspan><tspan x="1372">近世以降の整地</tspan></text>
<text y="892.6"><tspan class="n" x="1131">86</tspan><tspan class="n" x="1145">10YR3/3</tspan><tspan x="1184">暗褐色</tspan><tspan x="1243">中～細粒砂</tspan></text>
<text y="902.8"><tspan class="n" x="1131">87</tspan><tspan class="n" x="1145">10YR7/6</tspan><tspan x="1184">明黄褐色</tspan><tspan x="1243">粘土</tspan></text>
</g>
</svg>
